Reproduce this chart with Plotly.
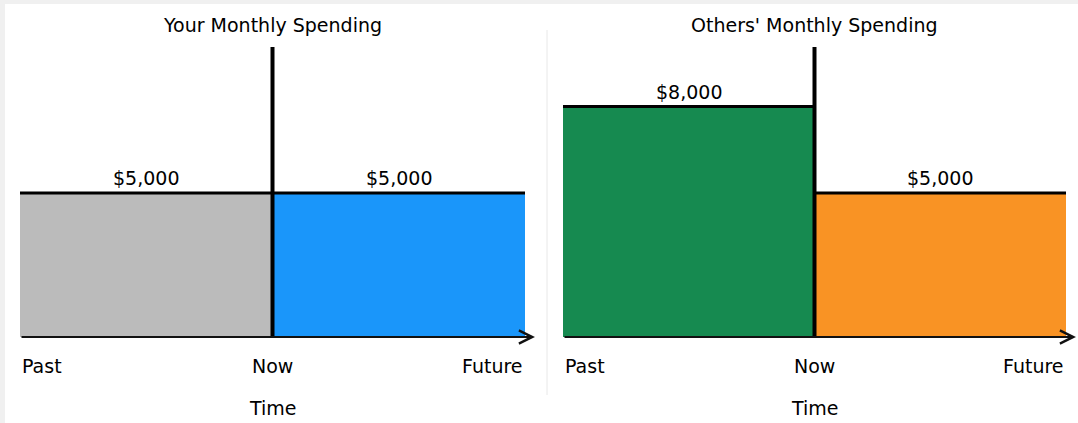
import plotly.graph_objects as go

# data
periods = ["Past", "Now", "Future"]
period_pos = [0, 1, 2]
bar_centers = [0.5, 1.5]
your_spending = [5000, 5000]
others_spending = [8000, 5000]
your_labels = ["$5,000", "$5,000"]
others_labels = ["$8,000", "$5,000"]
your_colors = ["#bbbbbb", "#1a96fa"]
others_colors = ["#168a50", "#f99324"]
titles = ["Your Monthly Spending", "Others' Monthly Spending"]

W, H = 1078, 423
Y_TOP = 10070
font_name = "DejaVu Sans"
FS = 19


def px_x(p):
    return p / W


def px_y(p):
    return 1 - p / H


fig = go.Figure()

panels = [
    ("x", "y", your_spending, your_colors, your_labels, [20, 535]),
    ("x2", "y2", others_spending, others_colors, others_labels, [563, 1076]),
]

for i, (xa, ya, vals, cols, labs, dom) in enumerate(panels):
    fig.add_trace(go.Bar(
        x=bar_centers, y=vals, width=1, marker=dict(color=cols, line=dict(width=0)),
        xaxis=xa, yaxis=ya, showlegend=False, hoverinfo="skip",
    ))
    # step line on top of the bars
    fig.add_trace(go.Scatter(
        x=period_pos, y=[vals[0], vals[1], vals[1]], mode="lines",
        line=dict(color="black", width=3, shape="hv"),
        xaxis=xa, yaxis=ya, showlegend=False, hoverinfo="skip",
    ))
    # value labels
    for c, v, t in zip(bar_centers, vals, labs):
        fig.add_annotation(x=c, y=v, xref=xa, yref=ya, text=t, showarrow=False,
                           yanchor="bottom", yshift=2,
                           font=dict(family=font_name, size=FS, color="black"))
    # "Now" vertical line
    fig.add_shape(type="line", xref=xa, yref=ya + " domain", x0=1, x1=1, y0=0, y1=1,
                  line=dict(color="black", width=4))
    # time axis arrow
    fig.add_annotation(xref=xa + " domain", yref=ya, axref=xa + " domain", ayref=ya,
                       x=1, y=0, ax=0, ay=0, showarrow=True, text="",
                       arrowhead=5, arrowsize=1.3, arrowwidth=2, arrowcolor="#111111")
    # period labels
    for p, name, anc in zip(period_pos, periods, ["left", "center", "right"]):
        fig.add_annotation(x=p, y=0, xref=xa, yref=ya, text=name, showarrow=False,
                           xanchor=anc, yanchor="top", yshift=-16,
                           font=dict(family=font_name, size=FS, color="black"))
    fig.add_annotation(x=1, y=0, xref=xa, yref=ya, text="Time", showarrow=False,
                       xanchor="center", yanchor="top", yshift=-58,
                       font=dict(family=font_name, size=FS, color="black"))
    fig.add_annotation(x=1, y=px_y(25), xref=xa, yref="paper", text=titles[i],
                       showarrow=False, xanchor="center", yanchor="middle",
                       font=dict(family=font_name, size=FS, color="black"))

    span = 2 * (dom[1] - dom[0]) / ((dom[1] - dom[0]) - 10)
    axis_common = dict(visible=False, fixedrange=True)
    fig.update_layout(**{
        ("xaxis" if xa == "x" else "xaxis2"): dict(
            domain=[px_x(dom[0]), px_x(dom[1])], range=[0, span], anchor=ya, **axis_common),
        ("yaxis" if ya == "y" else "yaxis2"): dict(
            domain=[px_y(337), px_y(47)], range=[0, Y_TOP], anchor=xa, **axis_common),
    })

# page decorations: grey strips and panel divider
fig.add_shape(type="rect", xref="paper", yref="paper", x0=0, x1=1, y0=px_y(4), y1=1,
              fillcolor="#f0f0f0", line=dict(width=0), layer="below")
fig.add_shape(type="rect", xref="paper", yref="paper", x0=0, x1=px_x(5), y0=0, y1=1,
              fillcolor="#f0f0f0", line=dict(width=0), layer="below")
fig.add_shape(type="line", xref="paper", yref="paper", x0=px_x(547), x1=px_x(547),
              y0=px_y(395), y1=px_y(30), line=dict(color="#e8e8e8", width=1))

fig.update_layout(
    width=W, height=H,
    margin=dict(l=0, r=0, t=0, b=0),
    paper_bgcolor="white", plot_bgcolor="rgba(0,0,0,0)",
    barmode="overlay", bargap=0,
)

fig.write_html("out.html", config={"displayModeBar": False},
               post_script="document.body.style.margin='0';document.body.style.overflow='hidden';")
